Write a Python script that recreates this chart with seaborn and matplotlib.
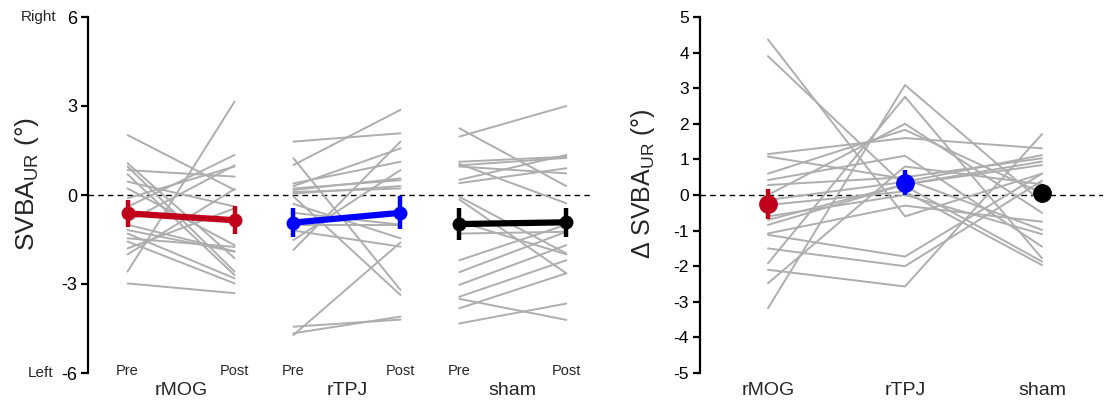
import numpy as np
import pandas as pd
import matplotlib
matplotlib.use("Agg")
import matplotlib.pyplot as plt
import seaborn as sns

# ---------------- data ----------------
groups = ["rMOG", "rTPJ", "sham"]
sessions = ["Pre", "Post"]

rmog_pre = [2.02, 1.07, 0.96, 0.84, 0.45, 0.22, -0.11, -0.40, -1.18, -1.30,
            -1.46, -1.57, -1.80, -2.00, -2.58, -2.98, 0.70, -0.90, -1.00]
rmog_post = [0.17, -2.13, -2.58, 0.62, -0.39, -1.69, 0.96, 1.35, -1.91, -2.81,
             -1.75, -2.98, -0.45, 0.20, 3.15, -3.31, -2.70, 1.00, -1.90]
rtpj_pre = [1.80, 1.01, 1.24, 0.39, 0.30, 0.17, 0.22, 0.10, -0.05, -1.00,
            -1.52, -1.85, -4.72, -4.66, -4.44, -0.30, -1.20, 0.05, -0.60]
rtpj_post = [2.08, 2.87, -3.20, 1.12, 1.57, 0.56, 0.50, 0.22, -3.37, -1.00,
             0.84, 1.80, -1.60, -4.10, -4.20, -1.46, -1.74, 0.30, -1.00]
sham_pre = [1.97, 2.25, 1.12, 0.96, 0.51, 1.05, -0.06, -0.15, -1.30, -2.60,
            -3.03, -3.43, -3.82, -4.33, 1.00, -0.90, -3.50, 0.40, -2.20]
sham_post = [3.00, 0.30, 1.29, 0.73, 1.35, -0.28, -1.97, -2.64, -1.24, -1.24,
             -1.69, -2.20, -2.64, -3.66, 1.25, -2.00, -4.21, 0.90, -1.00]

# group means and error half-widths (Pre, Post)
mean_pre = [-0.62, -0.93, -0.98]
mean_post = [-0.85, -0.60, -0.92]
err_pre = [0.45, 0.49, 0.53]
err_post = [0.47, 0.55, 0.49]

# delta values per subject (rMOG, rTPJ, sham)
delta_rmog = [4.37, 3.90, 1.15, 1.08, 0.60, 0.42, 0.28, 0.00, -0.14, -0.28,
              -0.70, -0.84, -1.08, -1.12, -1.92, -2.10, -2.48, -3.18, -1.50, -0.60]
delta_rtpj = [-0.60, 0.25, 1.60, 0.45, 1.83, 1.10, 0.50, 2.00, 0.37, 0.10,
              0.30, 0.30, -0.30, -1.73, 2.76, -2.57, 0.80, 3.09, -2.00, 0.00]
delta_sham = [0.60, -1.87, 1.31, -0.98, 0.05, -1.45, 1.03, -0.50, 1.12, -1.97,
              0.94, 0.84, -0.75, 0.60, -1.78, 1.71, 0.30, -0.20, 0.40, -1.10]

delta_mean = [-0.25, 0.35, 0.07]
delta_err = [0.43, 0.34, 0.18]

colors = ["#C0001A", "#0000FF", "#000000"]
grey = "#AEAEAE"

# ---------------- style ----------------
sns.set_theme(style="white")
plt.rcParams["font.family"] = ["Liberation Sans", "DejaVu Sans"]
plt.rcParams["mathtext.fontset"] = "custom"
plt.rcParams["mathtext.rm"] = "Liberation Sans"

W, H = 1105, 401
fig = plt.figure(figsize=(W / 100, H / 100), dpi=100)
fig.patch.set_facecolor("white")

def frac(x0, y0, x1, y1):
    return [x0 / W, 1 - y1 / H, (x1 - x0) / W, (y1 - y0) / H]

axL = fig.add_axes(frac(88, 17, 592, 373))
axR = fig.add_axes(frac(700, 17, 1103, 373))

# ---------------- left panel ----------------
offset = 1.55
pre_data = [rmog_pre, rtpj_pre, sham_pre]
post_data = [rmog_post, rtpj_post, sham_post]
rows = []
for g, name in enumerate(groups):
    for s, (a, b) in enumerate(zip(pre_data[g], post_data[g])):
        rows.append(dict(group=name, subj=f"{name}{s}", x=g * offset, y=a))
        rows.append(dict(group=name, subj=f"{name}{s}", x=g * offset + 1, y=b))
dfL = pd.DataFrame(rows)

axL.axhline(0, color="black", lw=1.0, ls=(0, (4, 3)), zorder=1)
sns.lineplot(data=dfL, x="x", y="y", units="subj", estimator=None,
             color=grey, lw=1.4, ax=axL, zorder=2, legend=False)

for g in range(3):
    xs = [g * offset, g * offset + 1]
    ys = [mean_pre[g], mean_post[g]]
    es = [err_pre[g], err_post[g]]
    axL.plot(xs, ys, color=colors[g], lw=4.5, solid_capstyle="butt", zorder=4)
    axL.errorbar(xs, ys, yerr=es, fmt="o", color=colors[g], ms=9,
                 elinewidth=3.2, capsize=0, zorder=5)
    for xx, lab in zip(xs, sessions):
        axL.text(xx, -5.93, lab, ha="center", va="center", fontsize=10.5)
    axL.text(np.mean(xs), -6.6, groups[g], ha="center", va="center", fontsize=14)

axL.set_xlim(-0.37, 4.34)
axL.set_ylim(-6, 6)
axL.set_yticks([-6, -3, 0, 3, 6])
axL.set_yticklabels(["-6", "-3", "0", "3", "6"], fontsize=13)
axL.set_xticks([])
axL.set_xlabel("")
axL.set_ylabel("")
axL.text(-0.062, 6, "Right", transform=axL.get_yaxis_transform(),
         ha="right", va="center", fontsize=11)
axL.text(-0.069, -6, "Left", transform=axL.get_yaxis_transform(),
         ha="right", va="center", fontsize=11)

# ---------------- right panel ----------------
rowsR = []
dl = [delta_rmog, delta_rtpj, delta_sham]
for s in range(len(delta_rmog)):
    for g in range(3):
        rowsR.append(dict(subj=s, x=g, y=dl[g][s]))
dfR = pd.DataFrame(rowsR)

axR.axhline(0, color="black", lw=1.0, ls=(0, (4, 3)), zorder=1)
sns.lineplot(data=dfR, x="x", y="y", units="subj", estimator=None,
             color=grey, lw=1.4, ax=axR, zorder=2, legend=False)
for g in range(3):
    axR.errorbar([g], [delta_mean[g]], yerr=[delta_err[g]], fmt="o",
                 color=colors[g], ms=12.5, elinewidth=3.2, capsize=0, zorder=5)
    axR.text(g, -5.5, groups[g], ha="center", va="center", fontsize=14)

axR.set_xlim(-0.496, 2.445)
axR.set_ylim(-5, 5)
axR.set_yticks(range(-5, 6))
axR.set_yticklabels([str(v) for v in range(-5, 6)], fontsize=12.5)
axR.set_xticks([])
axR.set_xlabel("")
axR.set_ylabel("")

for ax in (axL, axR):
    sns.despine(ax=ax, bottom=True)
    ax.spines["left"].set_linewidth(1.6)
    ax.spines["left"].set_color("black")
    ax.tick_params(axis="y", direction="out", length=5, width=1.6,
                   left=True, pad=3, colors="black")
    ax.set_facecolor("white")

fig.text(27 / W, 1 - 184 / H, "SVBA$_{\\mathrm{UR}}$ (°)", rotation=90,
         ha="center", va="center", fontsize=19)
fig.text(643 / W, 1 - 184 / H, "Δ SVBA$_{\\mathrm{UR}}$ (°)", rotation=90,
         ha="center", va="center", fontsize=18)

fig.savefig("out.png", dpi=100, facecolor="white")
